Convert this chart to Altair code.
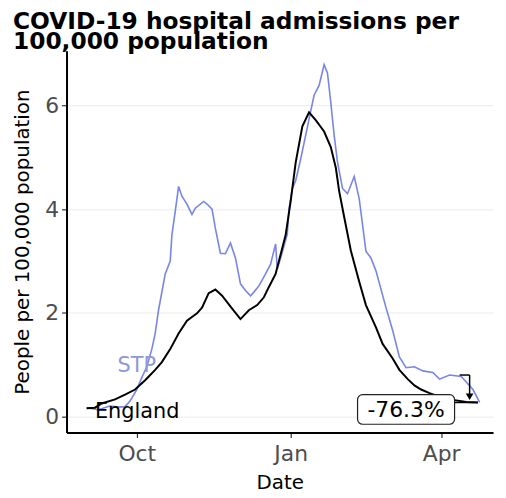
import altair as alt
import pandas as pd

# ---- data ----
england_dates = ["2020-09-01","2020-09-06","2020-09-10","2020-09-18","2020-09-24","2020-09-30","2020-10-06",
    "2020-10-12","2020-10-16","2020-10-21","2020-10-26","2020-10-31","2020-11-06","2020-11-09","2020-11-13",
    "2020-11-17","2020-11-21","2020-11-27","2020-12-02","2020-12-07","2020-12-12","2020-12-16","2020-12-19",
    "2020-12-23","2020-12-29","2021-01-01","2021-01-04","2021-01-08","2021-01-12","2021-01-16","2021-01-21",
    "2021-01-25","2021-01-28","2021-01-30","2021-02-02","2021-02-06","2021-02-11","2021-02-15","2021-02-21",
    "2021-02-25","2021-03-03","2021-03-07","2021-03-12","2021-03-16","2021-03-20","2021-03-25","2021-03-31",
    "2021-04-08","2021-04-16","2021-04-23"]
england_values = [0.16,0.17,0.25,0.33,0.42,0.52,0.7,
    0.9,1.05,1.3,1.6,1.85,1.99,2.1,2.38,
    2.45,2.33,2.08,1.88,2.05,2.15,2.3,2.5,
    2.75,3.5,4.15,4.9,5.6,5.87,5.72,5.5,
    5.2,4.8,4.35,3.85,3.2,2.6,2.15,1.72,
    1.4,1.12,0.9,0.72,0.6,0.52,0.45,0.38,
    0.32,0.28,0.27]

stp_dates = ["2020-09-01","2020-09-08","2020-09-15","2020-09-20","2020-09-24","2020-09-27","2020-10-01",
    "2020-10-04","2020-10-07","2020-10-10","2020-10-12","2020-10-14","2020-10-18","2020-10-21","2020-10-22",
    "2020-10-24","2020-10-26","2020-10-28","2020-10-31","2020-11-03","2020-11-05","2020-11-10","2020-11-12",
    "2020-11-15","2020-11-17","2020-11-20","2020-11-23","2020-11-26","2020-11-29","2020-12-02","2020-12-05",
    "2020-12-08","2020-12-10","2020-12-13","2020-12-17","2020-12-20","2020-12-23","2020-12-24","2020-12-26",
    "2020-12-30","2020-12-31","2021-01-02","2021-01-04","2021-01-07","2021-01-12","2021-01-15","2021-01-18",
    "2021-01-21","2021-01-23","2021-01-25","2021-01-27","2021-01-29","2021-02-01","2021-02-04","2021-02-08",
    "2021-02-11","2021-02-15","2021-02-18","2021-02-21","2021-02-27","2021-03-03","2021-03-07","2021-03-11",
    "2021-03-16","2021-03-21","2021-03-27","2021-03-31","2021-04-06","2021-04-13","2021-04-20","2021-04-24"]
stp_values = [0.17,0.13,0.2,0.18,0.19,0.3,0.52,
    0.75,0.96,1.3,1.6,2.05,2.75,3.0,3.5,
    3.96,4.44,4.25,4.1,3.9,4.02,4.15,4.1,
    4.0,3.63,3.15,3.14,3.35,3.06,2.56,2.43,
    2.33,2.4,2.52,2.75,2.94,3.33,2.85,3.06,
    3.52,4.0,4.4,4.55,4.97,5.74,6.2,6.39,
    6.79,6.63,6.06,5.43,4.91,4.4,4.3,4.63,
    4.2,3.19,3.06,2.81,2.1,1.66,1.15,0.94,
    0.96,0.88,0.85,0.72,0.8,0.77,0.52,0.27]

x_ticks = ["2020-10-01", "2021-01-01", "2021-04-01"]
y_ticks = [0, 2, 4, 6]
x_domain = ["2020-08-20", "2021-05-02"]
y_domain = [-0.31, 7.06]

change_label = "-76.3%"
FONT = "DejaVu Sans"
BLUE = "#6878e6"

eng = pd.DataFrame({"date": england_dates, "value": england_values})
stp = pd.DataFrame({"date": stp_dates, "value": stp_values})

xs = alt.Scale(domain=x_domain)
ys = alt.Scale(domain=y_domain, nice=False, zero=False)

x_enc = alt.X("date:T", scale=xs, title="Date",
              axis=alt.Axis(values=x_ticks, format="%b", grid=False))
y_enc = alt.Y("value:Q", scale=ys, title="People per 100,000 population",
              axis=alt.Axis(values=y_ticks, grid=True))

stp_line = alt.Chart(stp).mark_line(color=BLUE, strokeWidth=1.6, opacity=0.9).encode(x=x_enc, y=y_enc)
eng_line = alt.Chart(eng).mark_line(color="black", strokeWidth=2).encode(x=x_enc, y=y_enc)

# labels
lab_df = pd.DataFrame({"date": ["2020-10-01"], "value": [0.97], "t": ["STP"]})
stp_lab = alt.Chart(lab_df).mark_text(font=FONT, fontSize=21, color="#8e97d8", align="center",
                                      baseline="middle").encode(x="date:T", y="value:Q", text="t:N")
eng_df = pd.DataFrame({"date": ["2020-09-06"], "value": [0.08], "t": ["England"]})
eng_lab = alt.Chart(eng_df).mark_text(font=FONT, fontSize=21, color="black", align="left",
                                      baseline="middle").encode(x="date:T", y="value:Q", text="t:N")

# annotation: bracket + arrow
br_h = pd.DataFrame({"date": ["2021-04-12"], "date2": ["2021-04-18"], "value": [0.8]})
br_v = pd.DataFrame({"date": ["2021-04-18"], "value": [0.8], "value2": [0.4]})
br_c = pd.DataFrame({"date": ["2021-04-09"], "date2": ["2021-04-23"], "value": [0.27]})
rule_h = alt.Chart(br_h).mark_rule(color="black", strokeWidth=1.5).encode(
    x="date:T", x2="date2:T", y="value:Q")
rule_v = alt.Chart(br_v).mark_rule(color="black", strokeWidth=1.5).encode(
    x="date:T", y="value:Q", y2="value2:Q")
rule_c = alt.Chart(br_c).mark_rule(color="black", strokeWidth=1.5).encode(
    x="date:T", x2="date2:T", y="value:Q")
arrow_df = pd.DataFrame({"date": ["2021-04-18"], "value": [0.38]})
arrow = alt.Chart(arrow_df).mark_point(shape="triangle-down", filled=True, color="black",
                                       size=60, opacity=1).encode(x="date:T", y="value:Q")

box_df = pd.DataFrame({"date": ["2021-02-10"], "date2": ["2021-04-09"], "value": [0.42], "value2": [-0.15]})
box = alt.Chart(box_df).mark_rect(fill="white", stroke="#222222", strokeWidth=1.2,
                                  cornerRadius=5).encode(
    x="date:T", x2="date2:T", y="value:Q", y2="value2:Q")
txt_df = pd.DataFrame({"date": ["2021-03-11"], "value": [0.13], "t": [change_label]})
box_txt = alt.Chart(txt_df).mark_text(font=FONT, fontSize=22, color="black", align="center",
                                      baseline="middle").encode(x="date:T", y="value:Q", text="t:N")

chart = alt.layer(stp_line, eng_line, stp_lab, eng_lab, rule_h, rule_v, rule_c, arrow, box, box_txt).properties(
    width=430, height=385,
    padding={"top": 0, "left": 5, "right": 5, "bottom": 5},
    title=alt.TitleParams(text=["COVID-19 hospital admissions per", "100,000 population"],
                          font=FONT, fontSize=23.5, fontWeight="bold", color="black",
                          anchor="start", frame="bounds", lineHeight=20, offset=-3),
).configure_view(stroke=None).configure_axis(
    labelFont=FONT, titleFont=FONT, labelFontSize=22, labelColor="#4d4d4d",
    titleFontSize=20, titleColor="black", titleFontWeight="normal",
    domainColor="black", domainWidth=2, tickColor="#333333", tickSize=5, tickWidth=1.2,
    gridColor="#ebebeb", gridWidth=1,
).configure_axisY(titlePadding=12, labelPadding=3).configure_axisX(titlePadding=8, labelPadding=6)

chart.save("out.html", embed_options={"renderer": "svg", "actions": False})
